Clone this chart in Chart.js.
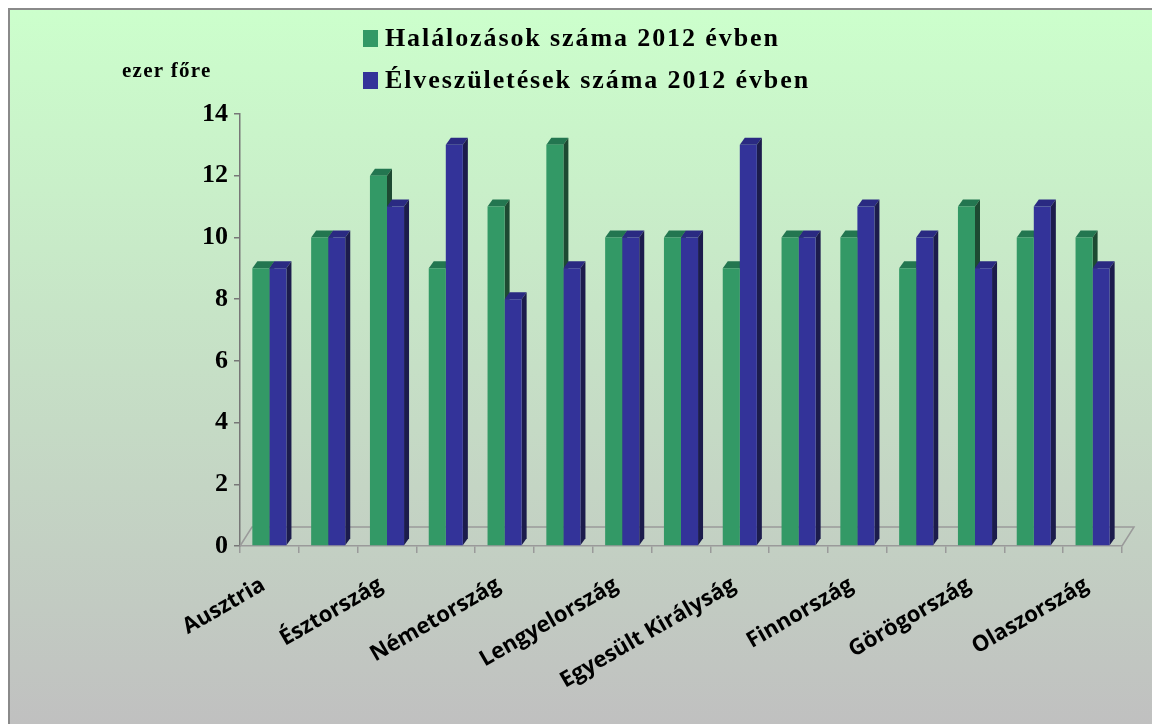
<!DOCTYPE html>
<html>
<head>
<meta charset="utf-8">
<script src="https://cdn.jsdelivr.net/npm/chart.js@4.4.1/dist/chart.umd.min.js"></script>
<style>
  html, body { margin: 0; padding: 0; background: #fff; }
  #frame {
    position: absolute; left: 8px; top: 8px; width: 1144px; height: 716px;
    border-left: 2px solid #8a8a8a; border-top: 2px solid #8a8a8a;
    background: linear-gradient(to bottom, #ccffcc 0%, #c0c0c0 100%);
  }
  #wrap { position: absolute; left: 0; top: 0; width: 1152px; height: 724px; }
  .unit {
    position: absolute; left: 122px; top: 58px;
    font: bold 21px "Liberation Serif", serif; letter-spacing: 1.3px; color: #000;
  }
  #legend { position: absolute; left: 363px; top: 20px; font: bold 26px "Liberation Serif", serif; letter-spacing: 1.9px; }
  #legend div { height: 42px; line-height: 36px; white-space: nowrap; }
  #legend span.box { display: inline-block; width: 15px; height: 17px; margin-right: 7px; vertical-align: -1px; }
</style>
</head>
<body>
<div id="frame"></div>
<div id="wrap"><canvas id="chart" width="1152" height="724"></canvas></div>
<div class="unit">ezer főre</div>
<div id="legend"></div>
<script>
// EU countries, deaths and live births per thousand inhabitants, 2012
const countries = [
  'Ausztria', 'Csehország', 'Észtország', 'Franciaország', 'Németország',
  'Magyarország', 'Lengyelország', 'Szlovákia', 'Egyesült Királyság', 'Dánia',
  'Finnország', 'Spanyolország', 'Görögország', 'Svédország', 'Olaszország'
];
const deaths = [9, 10, 12, 9, 11, 13, 10, 10, 9, 10, 10, 9, 11, 10, 10];
const births = [9, 10, 11, 13, 8, 9, 10, 10, 13, 10, 11, 10, 9, 11, 9];
const yTicks = [0, 2, 4, 6, 8, 10, 12, 14];

const seriesNames = ['Halálozások száma 2012 évben', 'Élveszületések száma 2012 évben'];
const front = ['#339966', '#333399'];
const top_ = ['#237650', '#2a2a82'];
const side = ['#1d4a32', '#1c1c4c'];

const DX = 5, DY = 7;      // bar depth
const FX = 12, FY = 19;    // floor depth

// top and right faces of the bars plus the floor outline, drawn under the bar fronts
const depth = {
  id: 'depth',
  beforeDatasetsDraw(chart) {
    const ctx = chart.ctx;
    const a = chart.chartArea;
    ctx.save();
    ctx.strokeStyle = '#9a9a9a';
    ctx.lineWidth = 1.5;
    ctx.beginPath();
    ctx.moveTo(a.left, a.bottom);
    ctx.lineTo(a.left + FX, a.bottom - FY);
    ctx.lineTo(a.right + FX, a.bottom - FY);
    ctx.lineTo(a.right, a.bottom);
    ctx.stroke();

    const metas = chart.data.datasets.map((d, i) => chart.getDatasetMeta(i));
    for (let j = 0; j < countries.length; j++) {
      metas.forEach((m, i) => {
        const b = m.data[j];
        const l = b.x - b.width / 2, r = b.x + b.width / 2;
        ctx.fillStyle = top_[i];
        ctx.beginPath();
        ctx.moveTo(l, b.y);
        ctx.lineTo(l + DX, b.y - DY);
        ctx.lineTo(r + DX, b.y - DY);
        ctx.lineTo(r, b.y);
        ctx.closePath();
        ctx.fill();
        ctx.fillStyle = side[i];
        ctx.beginPath();
        ctx.moveTo(r, b.y);
        ctx.lineTo(r + DX, b.y - DY);
        ctx.lineTo(r + DX, b.base - DY);
        ctx.lineTo(r, b.base);
        ctx.closePath();
        ctx.fill();
      });
    }
    ctx.restore();
  }
};

const chart = new Chart(document.getElementById('chart'), {
  type: 'bar',
  data: {
    labels: countries,
    datasets: [
      { label: seriesNames[0], data: deaths, backgroundColor: front[0] },
      { label: seriesNames[1], data: births, backgroundColor: front[1] }
    ]
  },
  options: {
    responsive: false,
    animation: false,
    layout: { padding: { left: 150, right: 30, top: 114, bottom: 8 } },
    plugins: { legend: { display: false }, tooltip: { enabled: false } },
    datasets: { bar: { barPercentage: 1, categoryPercentage: 0.58 } },
    scales: {
      x: {
        afterFit(s) { s.height = 170; },
        grid: { offset: true, drawOnChartArea: false, tickLength: 7, color: '#9a9a9a', lineWidth: 1.5 },
        border: { color: '#9a9a9a', width: 1.5 },
        ticks: {
          autoSkip: false,
          minRotation: 30, maxRotation: 30,
          padding: 19,
          labelOffset: -6,
          color: '#000',
          font: { family: 'Open Sans', size: 22, weight: 'bold' },
          callback(v, i) { return i % 2 === 0 ? countries[i] : ''; }
        }
      },
      y: {
        min: yTicks[0], max: yTicks[yTicks.length - 1],
        afterFit(s) { s.width = 90; },
        afterBuildTicks(s) { s.ticks = yTicks.map(v => ({ value: v })); },
        grid: { drawOnChartArea: false, tickLength: 6, color: '#777', lineWidth: 1.5 },
        border: { color: '#777', width: 1.5 },
        ticks: {
          padding: 6,
          color: '#000',
          font: { family: 'Liberation Serif', size: 26, weight: 'bold' }
        }
      }
    }
  },
  plugins: [depth]
});

// legend built from the chart's datasets, one entry per line
const legend = document.getElementById('legend');
chart.data.datasets.forEach(d => {
  const row = document.createElement('div');
  const box = document.createElement('span');
  box.className = 'box';
  box.style.background = d.backgroundColor;
  row.appendChild(box);
  row.appendChild(document.createTextNode(d.label));
  legend.appendChild(row);
});
</script>
</body>
</html>
